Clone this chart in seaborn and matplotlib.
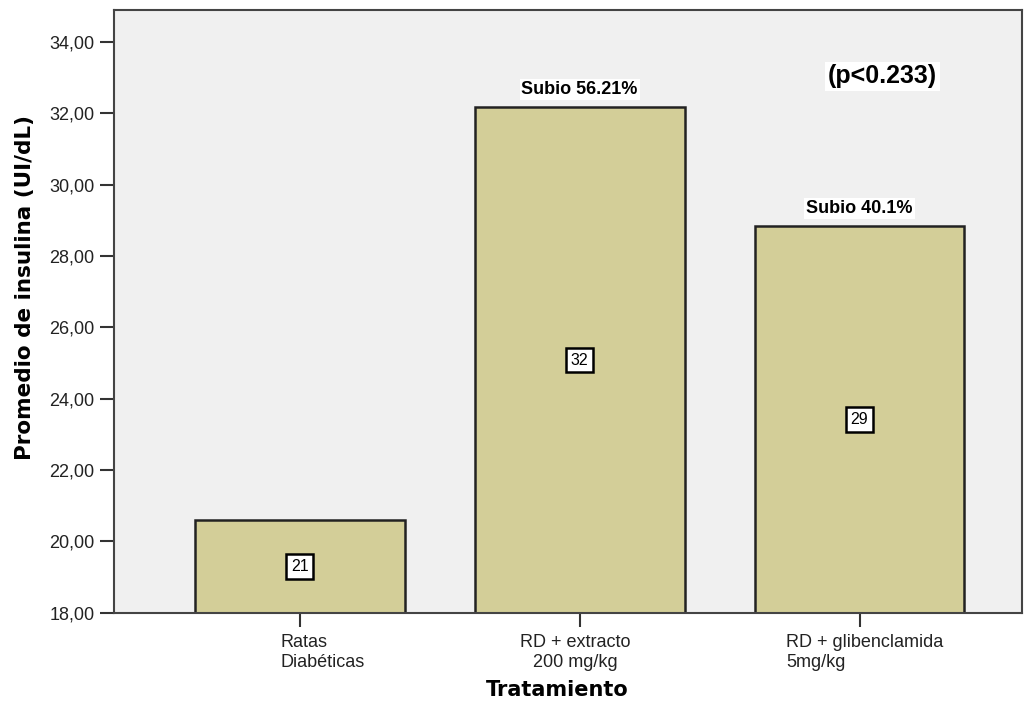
import matplotlib
matplotlib.use("Agg")
import matplotlib.pyplot as plt
import matplotlib.transforms as mtransforms
from matplotlib.ticker import FuncFormatter, MultipleLocator
import pandas as pd
import seaborn as sns

# Data
tratamientos = ["Ratas\nDiabéticas", "RD + extracto\n200 mg/kg", "RD + glibenclamida\n5mg/kg"]
insulina = [20.60, 32.17, 28.84]
etiquetas = ["21", "32", "29"]
subidas = ["", "Subio 56.21%", "Subio 40.1%"]
p_texto = "(p<0.233)"

sns.set_style("white")
plt.rcParams["font.family"] = ["Liberation Sans", "DejaVu Sans"]
plt.rcParams["text.color"] = "black"

ds = pd.DataFrame({"Tratamiento": tratamientos, "Insulina": insulina})

fig = plt.figure(figsize=(10.34, 7.02), dpi=100)
ax = fig.add_axes([0.110, 0.127, 0.878, 0.859])
ax.set_facecolor("#F0F0F0")

sns.barplot(data=ds, x="Tratamiento", y="Insulina", ax=ax, color="#D3CE98",
            saturation=1, width=0.75, edgecolor="#222222", linewidth=1.8, errorbar=None)

ax.set_ylim(18, 34.9)
ax.set_xlim(-0.664, 2.579)
ax.yaxis.set_major_locator(MultipleLocator(2))
ax.yaxis.set_major_formatter(FuncFormatter(lambda v, p: ("%.2f" % v).replace(".", ",")))

for sp in ax.spines.values():
    sp.set_color("#444444")
    sp.set_linewidth(1.5)

ax.tick_params(axis="both", direction="out", length=10, width=1.5, color="#333333",
               labelsize=13, labelcolor="#222222", left=True, bottom=True)
ax.tick_params(axis="y", pad=4)
ax.tick_params(axis="x", pad=5)

# axis titles (bold, wider font)
ax.set_ylabel("Promedio de insulina (UI/dL)", fontsize=15.5, fontweight="bold",
              family="DejaVu Sans", va="center", color="black")
ax.yaxis.set_label_coords(-0.098, 0.539)
ax.set_xlabel("Tratamiento", fontsize=15, fontweight="bold", family="DejaVu Sans",
              va="center", color="black")
ax.xaxis.set_label_coords(0.489, -0.128)

# tick label alignment like the original
offsets = [23, -4, 5]
aligns = ["left", "center", "left"]
for lab, dx, al in zip(ax.get_xticklabels(), offsets, aligns):
    lab.set_multialignment(al)
    lab.set_linespacing(1.25)
    lab.set_transform(lab.get_transform() + mtransforms.ScaledTranslation(dx / 100, 0, fig.dpi_scale_trans))

# value boxes in the middle of each bar
for i, (v, t) in enumerate(zip(insulina, etiquetas)):
    ax.text(i, (18 + v) / 2, t, ha="center", va="center", fontsize=11.5,
            bbox=dict(boxstyle="square,pad=0.3", facecolor="white", edgecolor="black", linewidth=1.8))

# increase labels above bars
for i, (v, s) in enumerate(zip(insulina, subidas)):
    if s:
        ax.text(i, v + 0.5, s, ha="center", va="center", fontsize=13, fontweight="bold",
                bbox=dict(boxstyle="square,pad=0.1", facecolor="white", edgecolor="none"))

ax.text(2.082, 33.04, p_texto, ha="center", va="center", fontsize=18, fontweight="bold",
        bbox=dict(boxstyle="square,pad=0.1", facecolor="white", edgecolor="none"))

fig.savefig("out.png", dpi=100, facecolor="white")
